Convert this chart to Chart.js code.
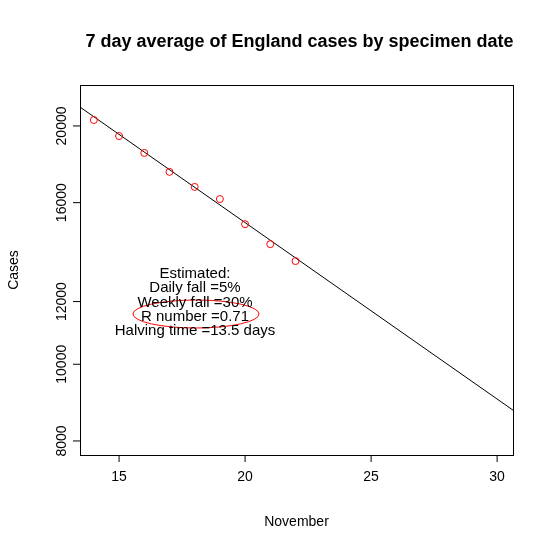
<!DOCTYPE html>
<html>
<head>
<script src="https://cdn.jsdelivr.net/npm/chart.js@4/dist/chart.umd.min.js"></script>
<style>body{margin:0;background:#fff}#wrap{width:553px;height:552px}</style>
</head>
<body>
<div id="wrap"><canvas id="myChart"></canvas></div>
<script>
// data
const days = [14, 15, 16, 17, 18, 19, 20, 21, 22];
const cases = [20350, 19420, 18490, 17500, 16750, 16170, 15030, 14180, 13500];
const fitX = [13.45, 30.63];
const fitY = [21130, 8750];
const xTicks = [15, 20, 25, 30];
const yTicks = [8000, 10000, 12000, 16000, 20000];
const noteLines = ['Estimated:', 'Daily fall =5%', 'Weekly fall =30%', 'R number =0.71', 'Halving time =13.5 days'];

const FONT = '"Liberation Sans", Arial, sans-serif';

const rPlot = {
    id: 'rPlot',
    afterDraw(chart) {
        const ctx = chart.ctx, a = chart.chartArea;
        const xs = chart.scales.x, ys = chart.scales.y;
        ctx.save();
        ctx.strokeStyle = '#000';
        ctx.lineWidth = 1;
        ctx.strokeRect(a.left + 0.5, a.top + 0.5, a.right - a.left, a.bottom - a.top);
        ctx.fillStyle = '#000';
        // title
        ctx.font = 'bold 18px ' + FONT;
        ctx.textAlign = 'center';
        ctx.textBaseline = 'middle';
        ctx.fillText('7 day average of England cases by specimen date', (a.left + a.right) / 2 + 3, 42);
        ctx.font = '14px ' + FONT;
        // x ticks
        xTicks.forEach(v => {
            const px = xs.getPixelForValue(v);
            ctx.beginPath(); ctx.moveTo(px, a.bottom); ctx.lineTo(px, a.bottom + 7); ctx.stroke();
            ctx.fillText(String(v), px, a.bottom + 22);
        });
        ctx.fillText('November', (a.left + a.right) / 2, 522);
        // y ticks, rotated labels
        yTicks.forEach(v => {
            const py = ys.getPixelForValue(v);
            ctx.beginPath(); ctx.moveTo(a.left, py); ctx.lineTo(a.left - 7, py); ctx.stroke();
            ctx.save(); ctx.translate(a.left - 18, py); ctx.rotate(-Math.PI / 2);
            ctx.fillText(String(v), 0, 0); ctx.restore();
        });
        ctx.save(); ctx.translate(14, (a.top + a.bottom) / 2); ctx.rotate(-Math.PI / 2);
        ctx.fillText('Cases', 0, 0); ctx.restore();
        // annotation
        ctx.beginPath();
        ctx.strokeStyle = 'red';
        ctx.ellipse(196, 314, 63, 14, 0, 0, Math.PI * 2);
        ctx.stroke();
        ctx.font = '15px ' + FONT;
        noteLines.forEach((t, i) => ctx.fillText(t, 195, 274 + i * 14.3));
        ctx.restore();
    }
};

new Chart(document.getElementById('myChart'), {
    type: 'scatter',
    data: {
        datasets: [
            {
                data: days.map((d, i) => ({ x: d, y: cases[i] })),
                pointStyle: 'circle', pointRadius: 3.5, borderColor: 'red',
                backgroundColor: 'rgba(0,0,0,0)', borderWidth: 1
            },
            {
                data: fitX.map((d, i) => ({ x: d, y: fitY[i] })),
                showLine: true, borderColor: '#000', borderWidth: 1, pointRadius: 0
            }
        ]
    },
    options: {
        responsive: true, maintainAspectRatio: false, animation: false,
        layout: { padding: { top: 85, right: 40, left: 0, bottom: 0 } },
        plugins: { legend: { display: false }, tooltip: { enabled: false } },
        scales: {
            x: {
                type: 'linear', min: 13.45, max: 30.63,
                grid: { display: false }, border: { display: false },
                ticks: { display: false },
                afterFit(s) { s.height = 97; }
            },
            y: {
                type: 'logarithmic', min: 7680, max: 22530,
                grid: { display: false }, border: { display: false },
                ticks: { display: false },
                afterFit(s) { s.width = 80; }
            }
        }
    },
    plugins: [rPlot]
});
</script>
</body>
</html>
